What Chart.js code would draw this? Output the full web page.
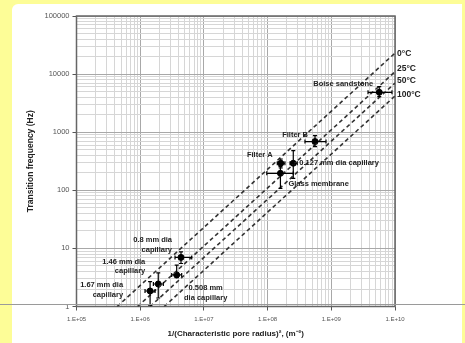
<!DOCTYPE html>
<html>
<head>
<meta charset="utf-8">
<script src="https://cdn.jsdelivr.net/npm/chart.js@4.4.1/dist/chart.umd.min.js"></script>
<style>
  html, body { margin: 0; padding: 0; }
  body { width: 465px; height: 343px; background: #fdfd97; position: relative; overflow: hidden; }
  .card { position: absolute; left: 12px; top: 4px; width: 450px; height: 339px; background: #fff; border-top-left-radius: 6px; }
  .scanline { position: absolute; left: 0; top: 304px; width: 465px; height: 1px; background: #9a9a9a; }
  canvas { position: absolute; left: 0; top: 0; }
</style>
</head>
<body>
<div class="card"></div>
<canvas id="chart" width="465" height="343"></canvas>
<div class="scanline"></div>
<script>
// measured samples
const samples = ['Boise sandstone', 'Filter B', 'Filter A', '0.127 mm dia capillary', 'Glass membrane',
                 '0.8 mm dia capillary', '0.508 mm dia capillary', '1.46 mm dia capillary', '1.67 mm dia capillary'];
const poreX = [5.66e9, 5.55e8, 1.61e8, 2.53e8, 1.59e8, 4.37e6, 3.74e6, 1.92e6, 1.43e6];
const freqY = [4860, 690, 292, 292, 196, 7.0, 3.5, 2.44, 1.85];
const xLow  = [3.77e9, 3.86e8, 1.42e8, 2.25e8, 9.7e7, 3.52e6, 3.12e6, 1.61e6, 1.19e6];
const xHigh = [8.97e9, 8.26e8, 1.87e8, 2.92e8, 2.53e8, 6.44e6, 4.48e6, 2.31e6, 1.71e6];
const yLow  = [4080, 565, 242, 160, 108, 5.5, 3.13, 1.40, 1.06];
const yHigh = [6070, 870, 346, 480, 255, 8.7, 5.15, 3.78, 2.67];

// temperature lines: start where f = 1 Hz, end at x = 1E+10
const tempLabels = ['0°C', '25°C', '50°C', '100°C'];
const lineStartX = [4.35e5, 9.1e5, 1.43e6, 2.38e6];
const lineEndY = [23000, 11000, 7000, 4200];

const xTickLabels = ['1.E+05', '1.E+06', '1.E+07', '1.E+08', '1.E+09', '1.E+10'];
const yTickLabels = ['1', '10', '100', '1000', '10000', '100000'];

// label placement (pixel offsets from each point)
const labelLayout = [
  { lines: ['Boise sandstone'], dx: -6, dy: [-8], align: 'right' },
  { lines: ['Filter B'], dx: -7, dy: [-7], align: 'right' },
  { lines: ['Filter A'], dx: -8, dy: [-8], align: 'right' },
  { lines: ['0.127 mm dia capillary'], dx: 6, dy: [0], align: 'left' },
  { lines: ['Glass membrane'], dx: 8, dy: [11], align: 'left' },
  { lines: ['0.8 mm dia', 'capillary'], dx: -9, dy: [-17, -7], align: 'right' },
  { lines: ['0.508 mm', 'dia capillary'], dx: 29, dy: [13, 23], align: 'center' },
  { lines: ['1.46 mm dia', 'capillary'], dx: -13, dy: [-22, -13], align: 'right' },
  { lines: ['1.67 mm dia', 'capillary'], dx: -27, dy: [-6, 4], align: 'right' }
];
const tempDy = [1, -3, -2, -1];

const FONT = '"Liberation Sans", Arial, sans-serif';

const exponent = v => Math.round(Math.log10(v));
const isDecade = v => Math.abs(Math.log10(v) - exponent(v)) < 1e-9;
const keepWhole = s => {
  s.ticks = s.ticks.filter(t => {
    const m = t.value / Math.pow(10, Math.floor(Math.log10(t.value) + 1e-9));
    return Math.abs(m - Math.round(m)) < 1e-6;
  });
};

const lineSets = tempLabels.map((t, i) => ({
  label: t,
  type: 'line',
  data: [{ x: lineStartX[i], y: 1 }, { x: 1e10, y: lineEndY[i] }],
  borderColor: '#333',
  borderWidth: 1.6,
  borderDash: [4, 3],
  pointRadius: 0,
  fill: false
}));

const pointSet = {
  label: 'Samples',
  data: samples.map((s, i) => ({ x: poreX[i], y: freqY[i] })),
  backgroundColor: '#000',
  borderColor: '#000',
  pointRadius: 3
};

const extras = {
  id: 'extras',
  beforeDatasetsDraw(chart) {
    const { ctx, chartArea: a } = chart;
    ctx.save();
    ctx.strokeStyle = '#666';
    ctx.lineWidth = 1.5;
    ctx.strokeRect(a.left, a.top, a.right - a.left, a.bottom - a.top);
    ctx.restore();
  },
  afterDatasetsDraw(chart) {
    const { ctx, chartArea: a } = chart;
    const xs = chart.scales.x, ys = chart.scales.y;
    ctx.save();
    ctx.strokeStyle = '#000';
    ctx.lineWidth = 1.2;
    const cap = 2;
    samples.forEach((s, i) => {
      const px = xs.getPixelForValue(poreX[i]);
      const py = ys.getPixelForValue(freqY[i]);
      const x0 = xs.getPixelForValue(xLow[i]), x1 = xs.getPixelForValue(xHigh[i]);
      const y0 = ys.getPixelForValue(yLow[i]), y1 = ys.getPixelForValue(yHigh[i]);
      ctx.beginPath();
      ctx.moveTo(x0, py); ctx.lineTo(x1, py);
      ctx.moveTo(x0, py - cap); ctx.lineTo(x0, py + cap);
      ctx.moveTo(x1, py - cap); ctx.lineTo(x1, py + cap);
      ctx.moveTo(px, y0); ctx.lineTo(px, y1);
      ctx.moveTo(px - cap, y0); ctx.lineTo(px + cap, y0);
      ctx.moveTo(px - cap, y1); ctx.lineTo(px + cap, y1);
      ctx.stroke();
    });

    // sample labels
    ctx.fillStyle = '#222';
    ctx.font = 'bold 7.5px ' + FONT;
    ctx.textBaseline = 'middle';
    labelLayout.forEach((l, i) => {
      const px = xs.getPixelForValue(poreX[i]);
      const py = ys.getPixelForValue(freqY[i]);
      ctx.textAlign = l.align;
      l.lines.forEach((t, k) => ctx.fillText(t, px + l.dx, py + l.dy[k]));
    });

    // temperature labels at line ends
    ctx.font = 'bold 8.5px ' + FONT;
    ctx.textAlign = 'left';
    tempLabels.forEach((t, i) => {
      ctx.fillText(t, a.right + 2, ys.getPixelForValue(lineEndY[i]) + tempDy[i]);
    });
    ctx.restore();
  }
};

new Chart(document.getElementById('chart'), {
  type: 'scatter',
  data: { datasets: [...lineSets, pointSet] },
  options: {
    responsive: false,
    animation: false,
    layout: { padding: { left: 0, right: 70, top: 16, bottom: 0 } },
    plugins: { legend: { display: false }, tooltip: { enabled: false } },
    scales: {
      x: {
        type: 'logarithmic',
        min: 1e5,
        max: 1e10,
        afterBuildTicks: keepWhole,
        afterFit: s => { s.height = 36.5; },
        border: { display: false },
        grid: {
          color: c => isDecade(c.tick.value) ? '#a8a8a8' : '#d6d6d6',
          tickColor: c => isDecade(c.tick.value) ? '#555' : 'rgba(0,0,0,0)',
          tickLength: 4,
          lineWidth: 1
        },
        ticks: {
          autoSkip: false,
          maxRotation: 0,
          padding: 5,
          color: '#555',
          font: { family: FONT, size: 6 },
          callback: v => isDecade(v) ? xTickLabels[exponent(v) - 5] : ''
        },
        title: {
          display: true,
          text: '1/(Characteristic pore radius)², (m⁻²)',
          color: '#222',
          font: { family: FONT, size: 8, weight: 'bold' },
          padding: { top: 0, bottom: 4 }
        }
      },
      y: {
        type: 'logarithmic',
        min: 1,
        max: 1e5,
        afterBuildTicks: keepWhole,
        afterFit: s => { s.width = 76.5; },
        border: { display: false },
        grid: {
          color: c => isDecade(c.tick.value) ? '#a8a8a8' : '#d6d6d6',
          tickColor: c => isDecade(c.tick.value) ? '#555' : 'rgba(0,0,0,0)',
          tickLength: 4,
          lineWidth: 1
        },
        ticks: {
          autoSkip: false,
          padding: 3,
          color: '#555',
          font: { family: FONT, size: 7.5 },
          callback: v => isDecade(v) ? yTickLabels[exponent(v)] : ''
        },
        title: {
          display: true,
          text: 'Transition frequency (Hz)',
          color: '#222',
          font: { family: FONT, size: 8.5, weight: 'bold' },
          padding: { top: 26, bottom: 0 }
        }
      }
    }
  },
  plugins: [extras]
});
</script>
</body>
</html>
